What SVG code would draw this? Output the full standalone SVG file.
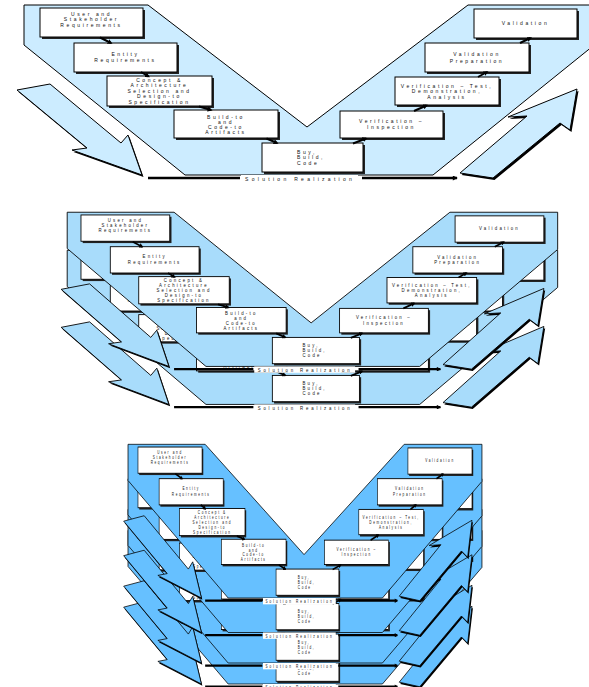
<svg xmlns="http://www.w3.org/2000/svg" xmlns:xlink="http://www.w3.org/1999/xlink" width="589" height="687" viewBox="0 0 589 687">
<style>
  .vp { stroke:#000; stroke-width:1; stroke-linejoin:miter; }
  .ash { fill:#000; stroke:none; }
  .bx { fill:#fff; stroke:#000; stroke-width:1; }
  .sh { fill:#222; stroke:none; }
  .t { font-family:"Liberation Sans", Arial, sans-serif; font-size:5px; font-weight:normal; letter-spacing:2.6px; fill:#111; text-anchor:middle; }
  .tl { text-anchor:start; }
  .sr { font-family:"Liberation Sans", Arial, sans-serif; font-size:5px; font-weight:normal; letter-spacing:3.3px; fill:#111; }
  .con { stroke:#000; stroke-width:2; fill:none; marker-end:url(#ah); }
  .srl { stroke:#000; stroke-width:2.5; fill:none; }
</style>
<defs>
  <marker id="ah" viewBox="0 0 6 6" refX="4" refY="3" markerWidth="5" markerHeight="5" markerUnits="userSpaceOnUse" orient="auto">
    <path d="M0,0 L6,3 L0,6 z" fill="#000"/>
  </marker>
  <marker id="ah2" viewBox="0 0 6 6" refX="5" refY="3" markerWidth="6" markerHeight="5" markerUnits="userSpaceOnUse" orient="auto">
    <path d="M0,0 L6,3 L0,6 z" fill="#000"/>
  </marker>
</defs>

<g fill="#CCECFF">
<g id="vee">
  <polygon id="vee-band" class="vp" points="24,5 148,5 307,127 468,5 593,5 593,46 433,175 185,175 24,45"/>
  <g id="arrow-decomposition">
    <polygon class="ash" transform="translate(1.5,2)" points="17,90 50,84 121,143 128,135 142,175 72,150 87,148"/>
    <polygon class="vp" points="17,90 50,84 121,143 128,135 142,175 72,150 87,148"/>
  </g>
  <g id="arrow-integration">
    <polygon class="ash" transform="translate(1.5,2)" points="460,173 493,178 560,123 570,130 577,89 508,117 527,116"/>
    <polygon class="vp" points="460,173 493,178 560,123 570,130 577,89 508,117 527,116"/>
  </g>
  <g id="solution-realization">
    <line class="srl" x1="148" y1="178" x2="240" y2="178"/>
    <rect x="241" y="175" width="117" height="7" fill="#fff"/>
    <text class="sr" x="245" y="181">Solution Realization</text>
    <line class="srl" x1="362" y1="178" x2="457" y2="178" marker-end="url(#ah2)"/>
  </g>
  <g id="n-user-req">
    <rect class="sh" x="42" y="10" width="103" height="29"/>
    <rect class="bx" x="40" y="8" width="103" height="29"/>
    <text class="t"><tspan x="91.5" y="15.8">User and</tspan><tspan x="91.5" y="21.3">Stakeholder</tspan><tspan x="91.5" y="26.8">Requirements</tspan></text>
  </g>
  <g id="n-entity-req">
    <rect class="sh" x="76" y="45" width="103" height="29"/>
    <rect class="bx" x="74" y="43" width="103" height="29"/>
    <text class="t"><tspan x="125.5" y="55.6">Entity</tspan><tspan x="125.5" y="62.4">Requirements</tspan></text>
  </g>
  <g id="n-concept">
    <rect class="sh" x="109" y="78" width="105" height="30"/>
    <rect class="bx" x="107" y="76" width="105" height="30"/>
    <text class="t"><tspan x="159.5" y="81.8">Concept &amp;</tspan><tspan x="159.5" y="87.3">Architecture</tspan><tspan x="159.5" y="92.8">Selection and</tspan><tspan x="159.5" y="98.3">Design-to</tspan><tspan x="159.5" y="103.8">Specification</tspan></text>
  </g>
  <g id="n-build-to">
    <rect class="sh" x="176" y="112" width="104" height="28"/>
    <rect class="bx" x="174" y="110" width="104" height="28"/>
    <text class="t"><tspan x="226" y="118.5">Build-to</tspan><tspan x="226" y="123.8">and</tspan><tspan x="226" y="129.1">Code-to</tspan><tspan x="226" y="134.4">Artifacts</tspan></text>
  </g>
  <g id="n-buy-build-code">
    <rect class="sh" x="264" y="145" width="101" height="29"/>
    <rect class="bx" x="262" y="143" width="101" height="29"/>
    <text class="t tl"><tspan x="297" y="153.5">Buy,</tspan><tspan x="297" y="159.2">Build,</tspan><tspan x="297" y="165">Code</tspan></text>
  </g>
  <g id="n-ver-inspection">
    <rect class="sh" x="342" y="113" width="103" height="27"/>
    <rect class="bx" x="340" y="111" width="103" height="27"/>
    <text class="t"><tspan x="391.5" y="122.5">Verification –</tspan><tspan x="391.5" y="129.1">Inspection</tspan></text>
  </g>
  <g id="n-ver-test">
    <rect class="sh" x="397" y="79" width="104" height="28"/>
    <rect class="bx" x="395" y="77" width="104" height="28"/>
    <text class="t"><tspan x="447" y="87.8">Verification – Test,</tspan><tspan x="447" y="93">Demonstration,</tspan><tspan x="447" y="98.5">Analysis</tspan></text>
  </g>
  <g id="n-val-prep">
    <rect class="sh" x="427" y="45" width="104" height="29"/>
    <rect class="bx" x="425" y="43" width="104" height="29"/>
    <text class="t"><tspan x="477" y="56.1">Validation</tspan><tspan x="477" y="62.5">Preparation</tspan></text>
  </g>
  <g id="n-validation">
    <rect class="sh" x="476" y="11" width="103" height="29"/>
    <rect class="bx" x="474" y="9" width="103" height="29"/>
    <text class="t"><tspan x="525.5" y="25.1">Validation</tspan></text>
  </g>
  <g id="connectors">
    <line class="con" x1="100" y1="37.5" x2="111" y2="43"/>
    <line class="con" x1="141" y1="72" x2="148.5" y2="76.5"/>
    <line class="con" x1="199" y1="106.5" x2="211" y2="110"/>
    <line class="con" x1="266.5" y1="138.5" x2="277" y2="143"/>
    <line class="con" x1="353" y1="143.5" x2="366" y2="138.5"/>
    <line class="con" x1="414" y1="111" x2="426.5" y2="105.5"/>
    <line class="con" x1="478" y1="77" x2="487" y2="72"/>
    <line class="con" x1="520" y1="43" x2="530.5" y2="38"/>
  </g>
</g>
</g>

<g id="vee-two-levels">
  <use xlink:href="#vee" href="#vee" fill="#A8DCFB" transform="translate(46.5,245.7) scale(0.862,0.907)"/>
  <use xlink:href="#vee" href="#vee" fill="#A8DCFB" transform="translate(46.5,207.7) scale(0.862,0.907)"/>
</g>

<g id="vee-many-levels">
  <use xlink:href="#vee" href="#vee" fill="#66C0FF" transform="translate(113.1,525.8) scale(0.622,0.904)"/>
  <use xlink:href="#vee" href="#vee" fill="#66C0FF" transform="translate(113.1,504.8) scale(0.622,0.904)"/>
  <use xlink:href="#vee" href="#vee" fill="#66C0FF" transform="translate(113.1,474.3) scale(0.622,0.904)"/>
  <use xlink:href="#vee" href="#vee" fill="#66C0FF" transform="translate(113.1,439.8) scale(0.622,0.904)"/>
</g>
</svg>
